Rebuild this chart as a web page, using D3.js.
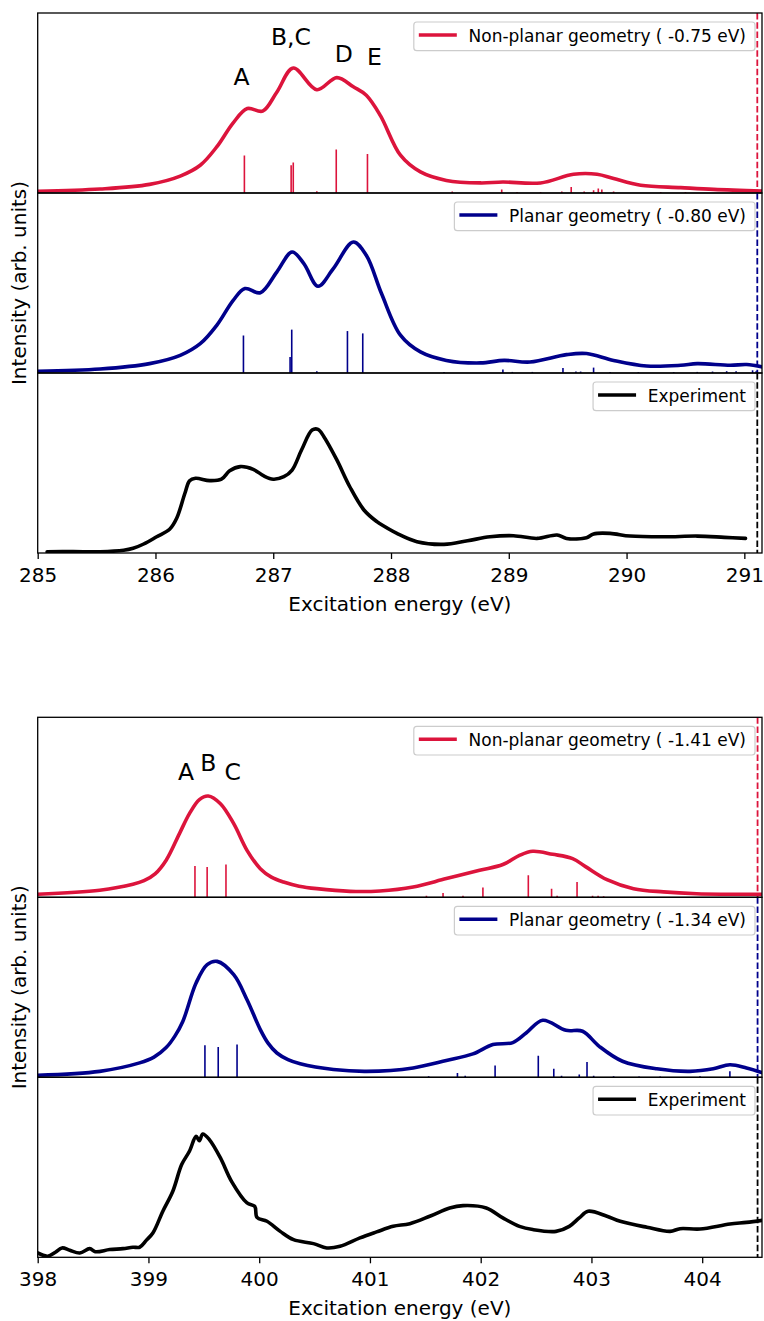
<!DOCTYPE html>
<html>
<head>
<meta charset="utf-8">
<script src="https://cdn.jsdelivr.net/npm/d3@7"></script>
<style>
  body { margin: 0; background: #fff; }
  text { font-family: "DejaVu Sans", sans-serif; }
</style>
</head>
<body>
<svg id="chart" width="764" height="1321"></svg>
<script>
// ---------------- DATA ----------------
// Carbon K-edge figure (top)
const cTicks = [285, 286, 287, 288, 289, 290, 291];
const cNonPlanarCurve = [[285.0,0.01],[285.53,0.022],[285.95,0.048],[286.21,0.094],[286.38,0.154],[286.52,0.256],[286.66,0.39],[286.78,0.469],[286.91,0.455],[287.03,0.56],[287.17,0.694],[287.37,0.574],[287.54,0.641],[287.68,0.59],[287.79,0.543],[287.91,0.43],[288.08,0.21],[288.25,0.117],[288.47,0.07],[288.76,0.056],[288.95,0.061],[289.27,0.056],[289.55,0.104],[289.75,0.104],[289.89,0.08],[290.12,0.043],[290.46,0.03],[290.74,0.02],[291.16,0.011]];
const cNonPlanarSticks = [[286.755,0.208],[287.152,0.154],[287.17,0.169],[287.37,0.01],[287.535,0.241],[287.80,0.217],[288.52,0.008],[288.94,0.019],[289.07,0.006],[289.27,0.006],[289.45,0.008],[289.53,0.033],[289.64,0.008],[289.72,0.015],[289.76,0.025],[289.79,0.02],[289.89,0.008],[290.29,0.006],[290.5,0.006]];
const cPlanarCurve = [[285.0,0.01],[285.53,0.022],[285.95,0.052],[286.21,0.098],[286.38,0.163],[286.52,0.265],[286.66,0.404],[286.76,0.469],[286.89,0.446],[287.03,0.561],[287.16,0.672],[287.26,0.608],[287.38,0.482],[287.51,0.58],[287.68,0.728],[287.79,0.654],[287.92,0.44],[288.08,0.21],[288.25,0.117],[288.47,0.07],[288.76,0.056],[288.96,0.07],[289.18,0.061],[289.49,0.102],[289.66,0.108],[289.89,0.07],[290.17,0.039],[290.46,0.043],[290.6,0.052],[290.88,0.043],[291.02,0.047],[291.16,0.033]];
const cPlanarSticks = [[286.747,0.209],[287.143,0.089],[287.157,0.241],[287.37,0.01],[287.63,0.233],[287.76,0.22],[288.45,0.006],[288.95,0.019],[289.03,0.006],[289.2,0.006],[289.46,0.028],[289.57,0.008],[289.61,0.008],[289.72,0.03],[289.86,0.006],[290.1,0.005],[290.4,0.005],[290.6,0.006],[290.73,0.008],[290.85,0.01],[290.93,0.01],[291.07,0.015],[291.1,0.01]];
const cExperiment = [[285.08,0.007],[285.3,0.008],[285.53,0.007],[285.73,0.015],[285.81,0.026],[285.9,0.05],[286.01,0.09],[286.12,0.132],[286.18,0.193],[286.25,0.332],[286.29,0.402],[286.34,0.415],[286.46,0.402],[286.56,0.41],[286.63,0.457],[286.72,0.48],[286.83,0.465],[286.92,0.428],[287.0,0.41],[287.09,0.424],[287.16,0.461],[287.24,0.572],[287.33,0.683],[287.38,0.687],[287.43,0.646],[287.54,0.517],[287.65,0.368],[287.77,0.239],[287.88,0.174],[287.91,0.161],[288.05,0.109],[288.22,0.063],[288.45,0.048],[288.65,0.068],[288.84,0.09],[289.04,0.096],[289.24,0.081],[289.41,0.1],[289.49,0.081],[289.66,0.085],[289.72,0.106],[289.86,0.109],[290.03,0.094],[290.32,0.09],[290.6,0.094],[290.83,0.087],[291.01,0.081]];
const cLabels = ["Non-planar geometry ( -0.75 eV)", "Planar geometry ( -0.80 eV)", "Experiment"];
const cAnnotations = [["A",286.73,0.60],["B,C",287.15,0.82],["D",287.6,0.73],["E",287.86,0.71]];
const cIonization = 291.11;

// Nitrogen K-edge figure (bottom)
const nTicks = [398, 399, 400, 401, 402, 403, 404];
const nNonPlanarCurve = [[398.0,0.017],[398.56,0.039],[398.86,0.072],[398.96,0.092],[399.06,0.13],[399.16,0.206],[399.28,0.354],[399.37,0.465],[399.46,0.543],[399.54,0.563],[399.65,0.52],[399.77,0.409],[399.89,0.261],[400.01,0.159],[400.11,0.112],[400.22,0.085],[400.36,0.062],[400.52,0.048],[400.82,0.033],[401.09,0.035],[401.39,0.057],[401.69,0.104],[401.99,0.15],[402.2,0.182],[402.35,0.233],[402.47,0.256],[402.65,0.239],[402.83,0.215],[402.95,0.169],[403.14,0.098],[403.38,0.048],[403.65,0.03],[403.95,0.02],[404.55,0.017]];
const nNonPlanarSticks = [[399.42,0.174],[399.53,0.169],[399.70,0.182],[401.51,0.008],[401.66,0.024],[401.84,0.008],[402.02,0.054],[402.43,0.122],[402.64,0.048],[402.69,0.008],[402.87,0.085],[403.01,0.008],[403.06,0.008],[403.11,0.006]];
const nPlanarCurve = [[398.0,0.011],[398.56,0.033],[398.92,0.08],[399.05,0.112],[399.16,0.165],[399.24,0.23],[399.31,0.31],[399.43,0.524],[399.53,0.626],[399.62,0.644],[399.77,0.57],[399.89,0.431],[400.01,0.265],[400.08,0.19],[400.16,0.135],[400.26,0.098],[400.37,0.075],[400.67,0.043],[400.97,0.033],[401.39,0.052],[401.69,0.093],[401.93,0.13],[402.11,0.182],[402.29,0.193],[402.41,0.246],[402.56,0.317],[402.77,0.261],[402.92,0.256],[403.07,0.172],[403.28,0.089],[403.59,0.047],[403.89,0.033],[404.1,0.047],[404.25,0.07],[404.4,0.052],[404.55,0.024]];
const nPlanarSticks = [[399.51,0.178],[399.63,0.169],[399.80,0.182],[401.53,0.006],[401.79,0.024],[401.86,0.008],[402.13,0.065],[402.52,0.12],[402.66,0.048],[402.73,0.008],[402.89,0.015],[402.96,0.085],[403.02,0.008],[403.2,0.006],[403.43,0.005],[403.62,0.005],[403.98,0.006],[404.25,0.033]];
const nExperiment = [[398.0,0.024],[398.09,0.006],[398.16,0.028],[398.22,0.052],[398.29,0.039],[398.38,0.024],[398.47,0.048],[398.52,0.031],[398.65,0.043],[398.77,0.048],[398.86,0.056],[398.92,0.056],[398.98,0.094],[399.04,0.135],[399.13,0.256],[399.22,0.367],[399.30,0.515],[399.37,0.589],[399.43,0.672],[399.46,0.648],[399.49,0.685],[399.55,0.654],[399.65,0.552],[399.75,0.422],[399.89,0.302],[399.96,0.283],[399.98,0.222],[400.07,0.2],[400.19,0.144],[400.31,0.098],[400.49,0.076],[400.61,0.052],[400.73,0.061],[400.91,0.108],[401.06,0.141],[401.21,0.172],[401.36,0.187],[401.54,0.228],[401.72,0.274],[401.84,0.287],[402.05,0.274],[402.2,0.219],[402.35,0.172],[402.47,0.154],[402.68,0.144],[402.8,0.172],[402.89,0.219],[402.97,0.256],[403.14,0.228],[403.26,0.2],[403.5,0.167],[403.71,0.144],[403.8,0.159],[403.98,0.157],[404.25,0.185],[404.4,0.194],[404.55,0.206]];
const nLabels = ["Non-planar geometry ( -1.41 eV)", "Planar geometry ( -1.34 eV)", "Experiment"];
const nAnnotations = [["A",399.34,0.65],["B",399.54,0.70],["C",399.76,0.65]];
const nIonization = 404.50;

const colors = ["#dc143c", "#00008b", "#000000"];

// ---------------- DRAWING ----------------
const svg = d3.select("#chart");
const L = 37.7, R = 762, PH = 180;

function drawFigure(f) {
  const x = d3.scaleLinear().domain(f.xDomain).range([L, R]);
  const panels = [
    {curve: f.np, sticks: f.npS, color: colors[0], label: f.labels[0]},
    {curve: f.pl, sticks: f.plS, color: colors[1], label: f.labels[1]},
    {curve: f.exp, sticks: [], color: colors[2], label: f.labels[2]}
  ];
  panels.forEach((p, i) => {
    const top = f.top + i * PH, bottom = top + PH;
    const y = d3.scaleLinear().domain([0, 1]).range([bottom, top]);
    const id = f.id + "clip" + i;
    svg.append("clipPath").attr("id", id).append("rect")
      .attr("x", L).attr("y", top).attr("width", R - L).attr("height", PH);
    const g = svg.append("g").attr("clip-path", `url(#${id})`);
    g.selectAll("line.stick").data(p.sticks).join("line")
      .attr("class", "stick")
      .attr("x1", d => x(d[0])).attr("x2", d => x(d[0]))
      .attr("y1", y(0)).attr("y2", d => y(d[1]))
      .attr("stroke", p.color).attr("stroke-width", 1.6);
    const line = d3.line().x(d => x(d[0])).y(d => y(d[1]))
      .curve(d3.curveCatmullRom.alpha(0.5));
    g.append("path").datum(p.curve).attr("d", line)
      .attr("fill", "none").attr("stroke", p.color)
      .attr("stroke-width", 3.6).attr("stroke-linejoin", "round").attr("stroke-linecap", "round");
    g.append("line")
      .attr("x1", x(f.ion)).attr("x2", x(f.ion)).attr("y1", top).attr("y2", bottom)
      .attr("stroke", p.color).attr("stroke-width", 1.8).attr("stroke-dasharray", "6.5,2.8");
    svg.append("rect").attr("x", L).attr("y", top).attr("width", R - L).attr("height", PH)
      .attr("fill", "none").attr("stroke", "#000").attr("stroke-width", 1.3);

    // legend
    const lg = svg.append("g");
    const boxTop = top + 9;
    const txt = lg.append("text").attr("font-size", 17).attr("fill", "#000").text(p.label);
    const tw = txt.node().getComputedTextLength();
    const boxRight = R - 7;
    const textX = boxRight - 9 - tw;
    txt.attr("x", textX).attr("y", boxTop + 19.7);
    const lineX2 = textX - 11.7, lineX1 = lineX2 - 38;
    lg.insert("rect", "text").attr("x", lineX1 - 5).attr("y", boxTop)
      .attr("width", boxRight - (lineX1 - 5)).attr("height", 28.7)
      .attr("rx", 3).attr("fill", "#fff").attr("fill-opacity", 0.8)
      .attr("stroke", "#cccccc").attr("stroke-width", 1.2);
    lg.append("line").attr("x1", lineX1).attr("x2", lineX2)
      .attr("y1", boxTop + 13).attr("y2", boxTop + 13)
      .attr("stroke", p.color).attr("stroke-width", 3.6);

    if (i === 0) {
      svg.selectAll(null).data(f.ann).join("text")
        .attr("x", d => x(d[1])).attr("y", d => y(d[2]))
        .attr("text-anchor", "middle").attr("font-size", 23.5).attr("fill", "#000")
        .text(d => d[0]);
    }
  });
  const axisY = f.top + 3 * PH;
  const ax = svg.append("g").attr("transform", `translate(0,${axisY})`)
    .call(d3.axisBottom(x).tickValues(f.ticks).tickSize(6).tickPadding(9).tickFormat(d3.format("d")));
  ax.select(".domain").remove();
  ax.selectAll(".tick line").attr("stroke", "#000").attr("stroke-width", 1.3);
  ax.selectAll(".tick text").attr("font-size", 20).attr("fill", "#000")
    .attr("font-family", "DejaVu Sans, sans-serif");
  svg.append("text").attr("x", (L + R) / 2).attr("y", axisY + 58)
    .attr("text-anchor", "middle").attr("font-size", 20).attr("fill", "#000")
    .text("Excitation energy (eV)");
  svg.append("text")
    .attr("transform", `translate(26,${f.top + 1.5 * PH}) rotate(-90)`)
    .attr("text-anchor", "middle").attr("font-size", 20).attr("fill", "#000")
    .text("Intensity (arb. units)");
}

drawFigure({id: "c", top: 13, xDomain: [285, 291.15], ticks: cTicks,
  np: cNonPlanarCurve, npS: cNonPlanarSticks, pl: cPlanarCurve, plS: cPlanarSticks,
  exp: cExperiment, labels: cLabels, ann: cAnnotations, ion: cIonization});
drawFigure({id: "n", top: 717.3, xDomain: [398, 404.54], ticks: nTicks,
  np: nNonPlanarCurve, npS: nNonPlanarSticks, pl: nPlanarCurve, plS: nPlanarSticks,
  exp: nExperiment, labels: nLabels, ann: nAnnotations, ion: nIonization});
</script>
</body>
</html>
